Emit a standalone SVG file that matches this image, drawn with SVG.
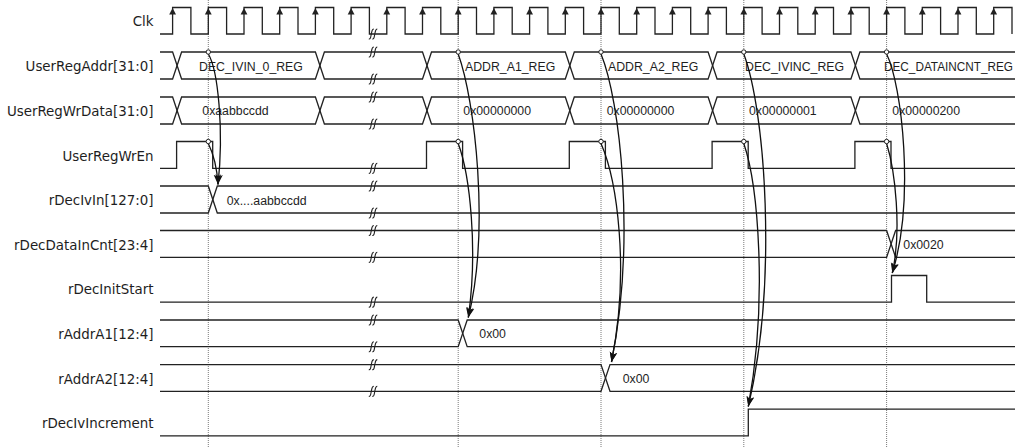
<svg xmlns="http://www.w3.org/2000/svg" xmlns:xlink="http://www.w3.org/1999/xlink" width="1021" height="448" viewBox="0 0 1021 448">
<style>
.lbl{font-family:"DejaVu Sans","Liberation Sans",sans-serif;font-size:13.4px;fill:#1e1e1e;text-anchor:end}
.val{font-family:"Liberation Sans",Arial,sans-serif;font-size:12.3px;fill:#1e1e1e}
.w{fill:none;stroke:#222;stroke-width:1.3}
.grid{stroke:#7a7a7a;stroke-width:1;stroke-dasharray:1 1}
.con{fill:none;stroke:#111;stroke-width:1.3;marker-end:url(#ah)}
.dot{fill:#fff;stroke:#222;stroke-width:1}
.bk{fill:none;stroke:#222;stroke-width:1.1}
</style>
<defs>
<marker id="ah" markerUnits="userSpaceOnUse" markerWidth="12" markerHeight="9" refX="10" refY="3.75" orient="auto" viewBox="0 0 12 7.5">
<path d="M0,0 L10,3.75 L0,7.5 L2.5,3.75 Z" fill="#111"/>
</marker>
<path id="ca" d="M0,0 L3.4,6.5 L-3.4,6.5 Z" fill="#222"/>
<path id="bk" class="bk" d="M-4.5,5 C-2.5,5.5 -2.5,2 -2,0 S-1.5,-5 0.5,-5 M-1,5 C1,5.5 1,2 1.5,0 S2,-5 4,-5"/>
</defs>
<rect width="1021" height="448" fill="#fff"/>

<g id="gridlines">
<line class="grid" x1="208.3" y1="0" x2="208.3" y2="448"/>
<line class="grid" x1="458.2" y1="0" x2="458.2" y2="448"/>
<line class="grid" x1="601" y1="0" x2="601" y2="448"/>
<line class="grid" x1="743.8" y1="0" x2="743.8" y2="448"/>
<line class="grid" x1="886.6" y1="0" x2="886.6" y2="448"/>
</g>

<g id="sig-clk">
<text class="lbl" x="153.5" y="26.2">Clk</text>
<path class="w" d="M160,34 H172.6 V7.5 H190.9 V34 H208.3 V7.5 H226.6 V34 H244 V7.5 H262.3 V34 H279.7 V7.5 H298 V34 H315.4 V7.5 H333.7 V34 H351.1 V7.5 H369.4 V34 H386.8 V7.5 H405.1 V34 H422.5 V7.5 H440.8 V34 H458.2 V7.5 H476.5 V34 H493.9 V7.5 H512.2 V34 H529.6 V7.5 H547.9 V34 H565.3 V7.5 H583.6 V34 H601 V7.5 H619.3 V34 H636.7 V7.5 H655 V34 H672.4 V7.5 H690.7 V34 H708.1 V7.5 H726.4 V34 H743.8 V7.5 H762.1 V34 H779.5 V7.5 H797.8 V34 H815.2 V7.5 H833.5 V34 H850.9 V7.5 H869.2 V34 H886.6 V7.5 H904.9 V34 H922.3 V7.5 H940.6 V34 H958 V7.5 H976.3 V34 H993.7 V7.5 H1012 V34"/>
<use xlink:href="#ca" x="172.6" y="8"/><use xlink:href="#ca" x="208.3" y="8"/><use xlink:href="#ca" x="244" y="8"/><use xlink:href="#ca" x="279.7" y="8"/>
<use xlink:href="#ca" x="315.4" y="8"/><use xlink:href="#ca" x="351.1" y="8"/><use xlink:href="#ca" x="386.8" y="8"/><use xlink:href="#ca" x="422.5" y="8"/>
<use xlink:href="#ca" x="458.2" y="8"/><use xlink:href="#ca" x="493.9" y="8"/><use xlink:href="#ca" x="529.6" y="8"/><use xlink:href="#ca" x="565.3" y="8"/>
<use xlink:href="#ca" x="601" y="8"/><use xlink:href="#ca" x="636.7" y="8"/><use xlink:href="#ca" x="672.4" y="8"/><use xlink:href="#ca" x="708.1" y="8"/>
<use xlink:href="#ca" x="743.8" y="8"/><use xlink:href="#ca" x="779.5" y="8"/><use xlink:href="#ca" x="815.2" y="8"/><use xlink:href="#ca" x="850.9" y="8"/>
<use xlink:href="#ca" x="886.6" y="8"/><use xlink:href="#ca" x="922.3" y="8"/><use xlink:href="#ca" x="958" y="8"/><use xlink:href="#ca" x="993.7" y="8"/>
<use xlink:href="#bk" x="373.3" y="34"/>
</g>

<g id="sig-userregaddr">
<text class="lbl" x="153.5" y="71">UserRegAddr[31:0]</text>
<path class="w" d="M160,52 H172.6 L181.6,79 H315.4 L324.4,52 H422.5 L431.5,79 H565.3 L574.3,52 H708.1 L717.1,79 H850.9 L859.9,52 H1015"/>
<path class="w" d="M160,79 H172.6 L181.6,52 H315.4 L324.4,79 H422.5 L431.5,52 H565.3 L574.3,79 H708.1 L717.1,52 H850.9 L859.9,79 H1015"/>
<text class="val" x="199" y="71">DEC_IVIN_0_REG</text>
<text class="val" x="465" y="71">ADDR_A1_REG</text>
<text class="val" x="608" y="71">ADDR_A2_REG</text>
<text class="val" x="745" y="71">DEC_IVINC_REG</text>
<text class="val" x="884" y="71" textLength="129" lengthAdjust="spacingAndGlyphs">DEC_DATAINCNT_REG</text>
<use xlink:href="#bk" x="373.3" y="52"/><use xlink:href="#bk" x="373.3" y="79"/>
</g>

<g id="sig-userregwrdata">
<text class="lbl" x="153.5" y="116">UserRegWrData[31:0]</text>
<path class="w" d="M160,97 H172.6 L181.6,124 H315.4 L324.4,97 H422.5 L431.5,124 H565.3 L574.3,97 H708.1 L717.1,124 H850.9 L859.9,97 H1015"/>
<path class="w" d="M160,124 H172.6 L181.6,97 H315.4 L324.4,124 H422.5 L431.5,97 H565.3 L574.3,124 H708.1 L717.1,97 H850.9 L859.9,124 H1015"/>
<text class="val" x="202.3" y="115">0xaabbccdd</text>
<text class="val" x="463.3" y="115">0x00000000</text>
<text class="val" x="606.7" y="115">0x00000000</text>
<text class="val" x="749" y="115">0x00000001</text>
<text class="val" x="892.3" y="115">0x00000200</text>
<use xlink:href="#bk" x="373.3" y="97"/><use xlink:href="#bk" x="373.3" y="124"/>
</g>

<g id="sig-userregwren">
<text class="lbl" x="153.5" y="160.5">UserRegWrEn</text>
<path class="w" d="M160,168.3 H176.6 V141.5 H212.7 V168.3 H426.5 V141.5 H462.6 V168.3 H569.3 V141.5 H605.4 V168.3 H712.1 V141.5 H748.2 V168.3 H854.9 V141.5 H891 V168.3 H1015"/>
<use xlink:href="#bk" x="373.3" y="168.3"/>
</g>

<g id="sig-rdecivin">
<text class="lbl" x="153.5" y="205">rDecIvIn[127:0]</text>
<path class="w" d="M160,186 H208.3 L217.3,213 H1015"/>
<path class="w" d="M160,213 H208.3 L217.3,186 H1015"/>
<text class="val" x="226.7" y="204.5">0x....aabbccdd</text>
<use xlink:href="#bk" x="373.3" y="186"/><use xlink:href="#bk" x="373.3" y="213"/>
</g>

<g id="sig-rdecdataincnt">
<text class="lbl" x="153.5" y="249.5">rDecDataInCnt[23:4]</text>
<path class="w" d="M160,230.5 H886.6 L895.6,257.3 H1015"/>
<path class="w" d="M160,257.3 H886.6 L895.6,230.5 H1015"/>
<text class="val" x="903.3" y="249">0x0020</text>
<use xlink:href="#bk" x="373.3" y="230.5"/><use xlink:href="#bk" x="373.3" y="257.3"/>
</g>

<g id="sig-rdecinitstart">
<text class="lbl" x="153.5" y="294.2">rDecInitStart</text>
<path class="w" d="M160,302.1 H891.5 V275.5 H926.7 V302.1 H1015"/>
<use xlink:href="#bk" x="373.3" y="302.1"/>
</g>

<g id="sig-raddra1">
<text class="lbl" x="153.5" y="338.8">rAddrA1[12:4]</text>
<path class="w" d="M160,320 H458.2 L467.2,346.7 H1015"/>
<path class="w" d="M160,346.7 H458.2 L467.2,320 H1015"/>
<text class="val" x="479.3" y="338">0x00</text>
<use xlink:href="#bk" x="373.3" y="320"/><use xlink:href="#bk" x="373.3" y="346.7"/>
</g>

<g id="sig-raddra2">
<text class="lbl" x="153.5" y="383.5">rAddrA2[12:4]</text>
<path class="w" d="M160,364.6 H601 L610,391.3 H1015"/>
<path class="w" d="M160,391.3 H601 L610,364.6 H1015"/>
<text class="val" x="622.7" y="383">0x00</text>
<use xlink:href="#bk" x="373.3" y="364.6"/><use xlink:href="#bk" x="373.3" y="391.3"/>
</g>

<g id="sig-rdecivincrement">
<text class="lbl" x="153.5" y="428">rDecIvIncrement</text>
<path class="w" d="M160,435.8 H748.3 V409.2 H1015"/>
</g>

<g id="connectors">
<path class="con" d="M208.3,54 C218,70 224,130 218,184.5"/>
<path class="con" d="M208.3,143.5 C214,155 217,168 218,184.5"/>
<path class="con" d="M458.2,54 C475,100 490,230 468.3,317.5"/>
<path class="con" d="M458.2,143.5 C470,175 478,250 468.3,317.5"/>
<path class="con" d="M601,54 C620,100 636,240 611.5,362"/>
<path class="con" d="M601,143.5 C617,180 630,270 611.5,362"/>
<path class="con" d="M743.8,54 C765,110 778,280 748.3,406.5"/>
<path class="con" d="M743.8,143.5 C758,185 768,300 748.3,406.5"/>
<path class="con" d="M886.6,54 C902,85 915,200 892.3,273"/>
<path class="con" d="M886.6,143.5 C895,170 902,230 892.3,273"/>
</g>

<g id="markers">
<circle class="dot" cx="208.3" cy="52" r="2.2"/><circle class="dot" cx="208.3" cy="141.5" r="2.2"/>
<circle class="dot" cx="458.2" cy="52" r="2.2"/><circle class="dot" cx="458.2" cy="141.5" r="2.2"/>
<circle class="dot" cx="601" cy="52" r="2.2"/><circle class="dot" cx="601" cy="141.5" r="2.2"/>
<circle class="dot" cx="743.8" cy="52" r="2.2"/><circle class="dot" cx="743.8" cy="141.5" r="2.2"/>
<circle class="dot" cx="886.6" cy="52" r="2.2"/><circle class="dot" cx="886.6" cy="141.5" r="2.2"/>
</g>
</svg>
